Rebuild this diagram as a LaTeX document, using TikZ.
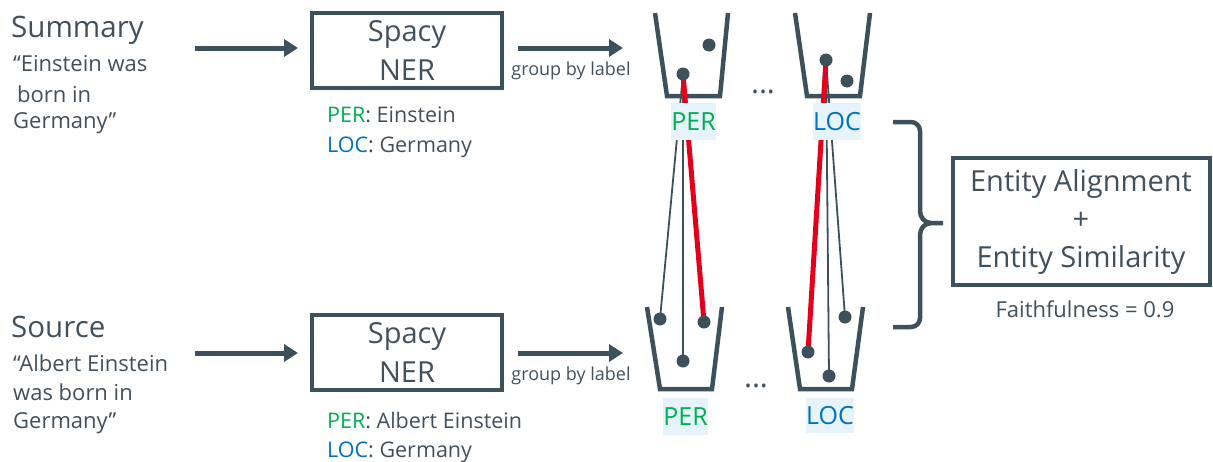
\documentclass[tikz,border=0pt]{standalone}
\usepackage{fontspec}
\setmainfont{Open Sans}
\usetikzlibrary{arrows.meta}
\definecolor{slate}{RGB}{61,81,92}
\definecolor{ink}{RGB}{66,80,92}
\definecolor{pergreen}{RGB}{0,176,80}
\definecolor{locblue}{RGB}{0,112,192}
\definecolor{linkred}{RGB}{228,0,27}
\definecolor{tagbg}{RGB}{230,243,250}

\begin{document}
\begin{tikzpicture}[x=1pt,y=-1pt,
  txt/.style={inner sep=0pt, text=ink},
  ttl/.style={txt, font=\fontsize{29.5}{34}\selectfont},
  bodytxt/.style={txt, font=\fontsize{22}{26}\selectfont},
  enttxt/.style={txt, font=\fontsize{21.5}{26}\selectfont},
  smalltxt/.style={txt, font=\fontsize{18}{22}\selectfont},
  flow/.style={slate, line width=5pt, -{Triangle[length=14pt,width=17pt]}},
  procbox/.style={draw=slate, line width=4pt, minimum width=190pt, minimum height=75pt,
    align=center, text=ink, font=\fontsize{29}{39}\selectfont, inner sep=0pt},
  bucket/.style={draw=slate, line width=4.5pt},
  ball/.style={circle, fill=slate, minimum size=13pt, inner sep=0pt},
  tagbox/.style={fill=tagbg, inner sep=0pt, minimum height=37pt, font=\fontsize{25}{30}\selectfont},
  graylink/.style={draw=slate, line width=1.8pt},
  redlink/.style={draw=linkred, line width=5pt},
]
\useasboundingbox (0,0) rectangle (1213,461);

% ---------- inputs ----------
\node[ttl, anchor=base west] (sumtitle) at (11,37) {Summary};
\node[bodytxt, anchor=base west] (sum1) at (13,71) {“Einstein was};
\node[bodytxt, anchor=base west] (sum2) at (17,102) {born in};
\node[bodytxt, anchor=base west] (sum3) at (13,128) {Germany”};

\node[ttl, anchor=base west] (srctitle) at (11,337) {Source};
\node[bodytxt, anchor=base west] (src1) at (13,371) {“Albert Einstein};
\node[bodytxt, anchor=base west] (src2) at (13,400) {was born in};
\node[bodytxt, anchor=base west] (src3) at (13,428) {Germany”};

% ---------- NER boxes ----------
\node[procbox] (ner1) at (407,50.5) {Spacy\\NER};
\node[procbox] (ner2) at (407,352.5) {Spacy\\NER};

\coordinate (in1) at (195,48);
\coordinate (in2) at (195,353);
\draw[flow] (in1) -- ([xshift=-12pt]ner1.west |- in1);
\draw[flow] (in2) -- ([xshift=-12pt]ner2.west |- in2);

\node[enttxt, anchor=base west] (ent1a) at (327,122) {\textcolor{pergreen}{PER}: Einstein};
\node[enttxt, anchor=base west] (ent1b) at (327,152) {\textcolor{locblue}{LOC}: Germany};
\node[enttxt, anchor=base west] (ent2a) at (327,428) {\textcolor{pergreen}{PER}: Albert Einstein};
\node[enttxt, anchor=base west] (ent2b) at (327,457) {\textcolor{locblue}{LOC}: Germany};

% ---------- group by label ----------
\coordinate (g1s) at (518,48);
\coordinate (g1e) at (623,48);
\coordinate (g2s) at (518,353);
\coordinate (g2e) at (623,353);
\draw[flow] (g1s) -- (g1e);
\draw[flow] (g2s) -- (g2e);
\node[smalltxt, anchor=base] (grp1) at (571,75) {group by label};
\node[smalltxt, anchor=base] (grp2) at (571,380) {group by label};

% ---------- buckets ----------
\draw[bucket] (655,13) -- (667,96) -- (720,96) -- (728,13);
\draw[bucket] (795,13) -- (807,96) -- (860,96) -- (870,13);
\draw[bucket] (647,307) -- (660,389) -- (712,389) -- (722,307);
\draw[bucket] (788,307) -- (800,389) -- (852,389) -- (863,307);

\node[txt, font=\fontsize{30}{34}\selectfont, anchor=base] (dots1) at (763,93) {...};
\node[txt, font=\fontsize{30}{34}\selectfont, anchor=base] (dots2) at (756,387) {...};

% entity balls
\coordinate (pt1) at (709,45);
\coordinate (pt2) at (683,74);
\coordinate (lt1) at (826,60);
\coordinate (lt2) at (847,81);
\coordinate (pb1) at (660,319);
\coordinate (pb2) at (704,322);
\coordinate (pb3) at (683,361);
\coordinate (lb1) at (808,352);
\coordinate (lb2) at (845,317);
\coordinate (lb3) at (829,376);

% alignment links
\draw[graylink] (pt2) -- (pb1);
\draw[graylink] (pt2) -- (pb3);
\draw[graylink] (lt1) -- (lb2);
\draw[graylink] (lt1) -- (lb3);
\draw[redlink] (pt2) -- (pb2);
\draw[redlink] (lt1) -- (lb1);

\foreach \p in {pt1,pt2,lt1,lt2,pb1,pb2,pb3,lb1,lb2,lb3}
  \node[ball] (b-\p) at (\p) {};

% bucket tags
\node[tagbox, minimum width=45pt, text=pergreen] (tagp1) at (693.5,121.5) {PER};
\node[tagbox, minimum width=48pt, text=locblue] (tagl1) at (837,121.5) {LOC};
\node[tagbox, minimum width=45pt, text=pergreen] (tagp2) at (685.5,416.5) {PER};
\node[tagbox, minimum width=46pt, minimum height=35pt, text=locblue] (tagl2) at (830,415.5) {LOC};

% ---------- brace ----------
\draw[slate, line width=4.5pt]
  (893,122) -- (911,122) to[out=0,in=90] (920,131) -- (920,211)
  to[out=-90,in=180] (931,223) -- (943,223);
\draw[slate, line width=4.5pt]
  (931,223) to[out=180,in=90] (920,235) -- (920,318)
  to[out=-90,in=0] (911,327) -- (893,327);

% ---------- scoring ----------
\node[procbox, minimum width=257pt, minimum height=127pt, font=\fontsize{29}{38}\selectfont]
  (score) at (1081,221.5) {Entity Alignment\\+\\Entity Similarity};
\node[txt, font=\fontsize{22}{26}\selectfont, anchor=base] (faith) at (1085,317) {Faithfulness = 0.9};

\end{tikzpicture}
\end{document}
